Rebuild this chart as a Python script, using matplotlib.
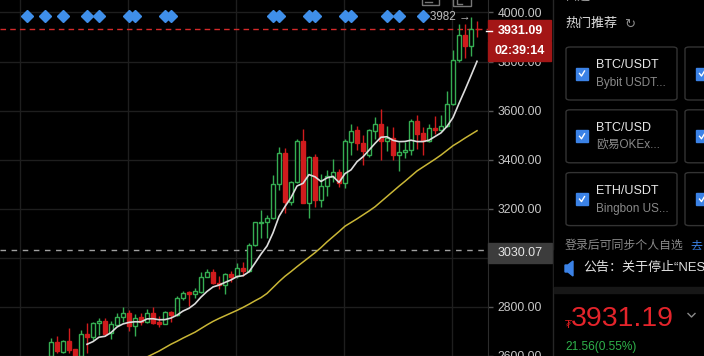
import numpy as np
import pandas as pd
import matplotlib
matplotlib.use('Agg')
import matplotlib.pyplot as plt
from matplotlib.patches import Rectangle, FancyBboxPatch, Polygon
from matplotlib.lines import Line2D

plt.rcParams['font.family'] = ['Liberation Sans', 'Noto Sans CJK SC', 'DejaVu Sans']

# K线数据 (oldest -> newest)
opens = [2600, 2659, 2617, 2663, 2628, 2600, 2689, 2678, 2736, 2744,
         2693, 2727, 2760, 2777, 2722, 2758, 2740, 2774, 2739, 2731,
         2781, 2767, 2837, 2860, 2852, 2861, 2922, 2943, 2899, 2890,
         2935, 2926, 2960, 2946, 3054, 3141, 3148, 3162, 3299, 3428,
         3229, 3307, 3476, 3224, 3411, 3236, 3294, 3330, 3350, 3303,
         3474, 3521, 3469, 3417, 3518, 3544, 3478, 3489, 3417, 3431,
         3438, 3556, 3508, 3478, 3529, 3522, 3536, 3625, 3805, 3909,
         3862, 3932]
highs = [2672, 2682, 2665, 2713, 2630, 2706, 2736, 2740, 2754, 2754,
         2744, 2774, 2798, 2787, 2771, 2774, 2790, 2798, 2763, 2785,
         2783, 2846, 2865, 2865, 2879, 2942, 2953, 2953, 2926, 2937,
         2946, 2980, 2984, 3061, 3148, 3195, 3175, 3337, 3451, 3447,
         3315, 3485, 3525, 3416, 3424, 3343, 3357, 3404, 3364, 3485,
         3545, 3536, 3501, 3525, 3575, 3606, 3536, 3532, 3472, 3474,
         3566, 3582, 3532, 3545, 3579, 3582, 3680, 3846, 3954, 3954,
         3982, 3964]
lows = [2590, 2612, 2612, 2612, 2595, 2590, 2612, 2666, 2686, 2686,
        2669, 2722, 2740, 2700, 2682, 2727, 2736, 2731, 2720, 2729,
        2740, 2763, 2830, 2803, 2837, 2857, 2920, 2892, 2872, 2852,
        2903, 2919, 2926, 2943, 3050, 3081, 3081, 3159, 3276, 3182,
        3215, 3303, 3222, 3162, 3209, 3209, 3253, 3307, 3290, 3283,
        3417, 3438, 3377, 3410, 3485, 3397, 3434, 3397, 3353, 3407,
        3420, 3444, 3420, 3472, 3505, 3518, 3532, 3622, 3800, 3815,
        3821, 3900]
closes = [2659, 2619, 2663, 2626, 2600, 2689, 2678, 2736, 2744, 2689,
          2731, 2760, 2777, 2722, 2754, 2740, 2774, 2736, 2731, 2781,
          2767, 2837, 2857, 2852, 2864, 2922, 2942, 2896, 2890, 2933,
          2923, 2960, 2946, 3054, 3144, 3148, 3162, 3299, 3428, 3229,
          3307, 3476, 3224, 3411, 3236, 3294, 3333, 3350, 3303, 3476,
          3518, 3469, 3434, 3521, 3544, 3478, 3489, 3417, 3431, 3440,
          3556, 3505, 3478, 3528, 3522, 3536, 3625, 3808, 3909, 3865,
          3932, 3931.09]
# MA30 (黄线), 读图
ma30 = [np.nan] * 16 + [
    2596, 2608, 2620, 2634, 2648, 2660, 2673, 2685, 2697, 2712,
    2727, 2741, 2753, 2764, 2775, 2786, 2798, 2811, 2825, 2838,
    2855, 2879, 2903, 2925, 2944, 2964, 2983, 3002, 3021, 3042,
    3065, 3086, 3107, 3129, 3144, 3159, 3175, 3191, 3208, 3229,
    3250, 3271, 3292, 3312, 3333, 3354, 3370, 3386, 3402, 3419,
    3438, 3457, 3472, 3488, 3503, 3518]
# 顶部事件标记所在的K线序号
event_idx = [-4, -1, 2, 6, 8, 13, 14, 19, 20, 37, 38, 43, 44, 49, 50, 56, 58, 62]
price_ticks = [2600, 2800, 3000, 3200, 3400, 3600, 3800, 4000]
last_price = 3931.09
ref_price = 3030.07
countdown = '02:39:14'
peak_idx = 70

W, H = 704, 356
GREEN = '#35ad52'
RED = '#d01b1d'


def fx(px):
    return px / W


def fy(py):
    return 1 - py / H


fig = plt.figure(figsize=(W / 100, H / 100), dpi=100, facecolor='black')
ax = fig.add_axes([0, 0, 488 / W, 1], facecolor='black')

x = np.arange(len(closes))
o = np.array(opens, dtype=float)
c = np.array(closes, dtype=float)
hi = np.array(highs, dtype=float)
lo = np.array(lows, dtype=float)
up = c >= o
body_lo = np.minimum(o, c)
body_hi = np.maximum(o, c)
col = np.where(up, GREEN, RED)

ax.vlines(x, body_hi, hi, colors=col, lw=1, zorder=3)
ax.vlines(x, lo, body_lo, colors=col, lw=1, zorder=3)
ax.bar(x, np.maximum(body_hi - body_lo, 3), width=0.7, bottom=body_lo,
       color=np.where(up, 'black', RED), edgecolor=col, linewidth=1, zorder=4)

# 均线
ma7 = pd.Series(closes).rolling(7).mean()
ax.plot(x, ma7, color='#dcdcdc', lw=1.2, zorder=5)
ax.plot(x, ma30, color='#c9b636', lw=1.1, zorder=5)

# 现价线 / 参考线
ax.axhline(last_price, color='#d42a2a', ls=(0, (4, 3)), lw=1, zorder=2)
ax.axhline(ref_price, color='#a0a0a0', ls=(0, (4, 4)), lw=1, zorder=2)

# 事件标记
ax.plot(event_idx, [0.956] * len(event_idx), ls='none', marker='D', ms=6.3,
        color='#3f8fea', transform=ax.get_xaxis_transform(), clip_on=False, zorder=6)
ax.text(peak_idx - 6.8, 0.952, '%d →' % max(highs), color='#bdbdbd', fontsize=8.4,
        ha='left', va='center', transform=ax.get_xaxis_transform(), zorder=6)

ax.set_xlim(-8.5, 72.83)
ax.set_ylim(2609.9, 4050.6)
ax.set_xticks(np.arange(-5.17, 73, 18))
ax.tick_params(axis='x', bottom=False, labelbottom=False)
ax.set_yticks(price_ticks)
ax.set_yticklabels(['%.2f' % p for p in price_ticks])
ax.yaxis.tick_right()
ax.tick_params(axis='y', length=3.6, width=1, color='#555555', labelcolor='#c8c8c8',
               labelsize=8.7, pad=3.5)
ax.grid(True, color='#1e1e1e', lw=1)
ax.set_axisbelow(True)
for s in ['top', 'left', 'bottom']:
    ax.spines[s].set_visible(False)
ax.spines['right'].set_color('#2c2c2c')


def frect(x0, y0, w, h, **kw):
    r = Rectangle((fx(x0), fy(y0 + h)), w / W, h / H, transform=fig.transFigure, **kw)
    fig.add_artist(r)
    return r


def ftext(x0, y0, s, **kw):
    kw.setdefault('va', 'center')
    kw.setdefault('ha', 'left')
    fig.text(fx(x0), fy(y0), s, zorder=kw.pop('zorder', 8), **kw)


def fline(xs, ys, **kw):
    fig.add_artist(Line2D([fx(v) for v in xs], [fy(v) for v in ys],
                          transform=fig.transFigure, **kw))


# 右侧价格标签
frect(488, 20, 63, 20, color='#a31616', zorder=7)
frect(488, 41, 63, 20, color='#a31616', zorder=7)
ftext(520, 30.5, '%.2f' % last_price, color='white', fontsize=9, fontweight='bold', ha='center')
ftext(520, 51, countdown, color='white', fontsize=9, fontweight='bold', ha='center')
fline([486, 492], [30.5, 30.5], color='white', lw=1, zorder=8)
frect(488, 243, 64, 20, color='#3c3c3c', zorder=7)
ftext(520, 253, '%.2f' % ref_price, color='#e6e6e6', fontsize=9, ha='center')

# 顶部按钮
frect(422, -3, 17, 8, facecolor='none', edgecolor='#777777', lw=1, zorder=7)
fline([425, 432], [1.5, 1.5], color='#777777', lw=1, zorder=7)
frect(453, -3, 18, 9, facecolor='none', edgecolor='#777777', lw=1, zorder=7)
fline([457, 457, 462], [-1, 3.5, 3.5], color='#777777', lw=1, zorder=7)

# 右侧面板
frect(553, 0, 151, 356, color='black', zorder=6)
fline([553, 553], [0, 356], color='#262626', lw=1, zorder=7)
ftext(565, -3, '自选', color='#9a9a9a', fontsize=9.4)
ftext(565, 24, '热门推荐', color='#dcdcdc', fontsize=9.4)
ftext(624, 24, '↻', color='#8a8a8a', fontsize=9.5, family=['DejaVu Sans'])

cards = [('BTC/USDT', 'Bybit USDT...'), ('BTC/USD', '欧易OKEx...'), ('ETH/USDT', 'Bingbon US...')]
for i, (title, sub) in enumerate(cards):
    top = 47 + i * 62.8
    for cx0, cw in [(566, 111), (685, 110)]:
        fig.add_artist(FancyBboxPatch((fx(cx0), fy(top + 53)), cw / W, 53 / H,
                                      boxstyle='round,pad=0,rounding_size=0.006',
                                      transform=fig.transFigure, facecolor='none',
                                      edgecolor='#333333', lw=1, zorder=7))
    mid = top + 26.5
    for bx in [576, 696]:
        frect(bx, mid - 6, 12, 12, color='#3b82e6', zorder=8)
        fline([bx + 3.5, bx + 5.5, bx + 8.5], [mid, mid + 2.5, mid - 2.5], color='white', lw=1, zorder=9)
    ftext(596, mid - 8.5, title, color='#e8e8e8', fontsize=9)
    ftext(596, mid + 9.5, sub, color='#8a8a8a', fontsize=8.5)

ftext(565, 246, '登录后可同步个人自选', color='#8a8a8a', fontsize=8.6)
ftext(690, 246, '去', color='#3b82e6', fontsize=8.6)
frect(554, 250, 150, 37, color='black', zorder=8.5)
fig.add_artist(Polygon([(fx(565), fy(265)), (fx(568), fy(265)), (fx(573), fy(261)),
                        (fx(573), fy(276)), (fx(568), fy(272)), (fx(565), fy(272))],
                       closed=True, transform=fig.transFigure, color='#3b82e6', zorder=9))
ftext(583, 268, '公告：关于停止“NES', color='#e0e0e0', fontsize=9.4, zorder=9)
frect(554, 287, 150, 6, color='#171717', zorder=8.5)

ftext(565, 325, '₮', color=RED, fontsize=8, family=['DejaVu Sans'], zorder=9)
ftext(571, 319, '3931.19', color='#e4242b', fontsize=20.5, zorder=9)
fline([688, 691.5, 695], [313.5, 317, 313.5], color='#8a8a8a', lw=1, zorder=9)
ftext(565, 347, '21.56(0.55%)', color='#2fb24b', fontsize=8.6, zorder=9)

fig.savefig('out.png', dpi=100, facecolor='black')
